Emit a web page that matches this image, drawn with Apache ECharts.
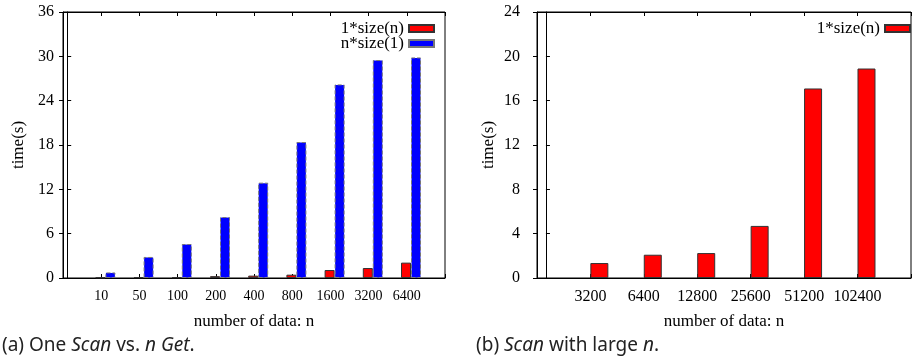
<!DOCTYPE html>
<html>
<head>
<meta charset="utf-8">
<script src="https://cdn.jsdelivr.net/npm/echarts@6/dist/echarts.min.js"></script>
<style>
  html, body { margin: 0; padding: 0; background: #fff; }
  #chart { width: 914px; height: 363px; }
</style>
</head>
<body>
<div id="chart"></div>
<script>
// (a) one Scan vs n Get
const leftCats = ["10", "50", "100", "200", "400", "800", "1600", "3200", "6400"];
const leftScan = [0.08, 0.1, 0.1, 0.25, 0.32, 0.45, 1.08, 1.35, 2.08];
const leftGet = [0.75, 2.85, 4.6, 8.25, 12.9, 18.4, 26.2, 29.5, 29.85];
const leftTicks = [0, 6, 12, 18, 24, 30, 36];

// (b) Scan with large n
const rightCats = ["3200", "6400", "12800", "25600", "51200", "102400"];
const rightScan = [1.35, 2.1, 2.25, 4.7, 17.1, 18.9];
const rightTicks = [0, 4, 8, 12, 16, 20, 24];

const SERIF = "'Liberation Serif', 'Times New Roman', serif";
const SANS = "'Noto Sans', sans-serif";
const black = "#000";

function valueX(grid, min, max, extra) {
  return Object.assign({
    gridIndex: grid, type: "value", min: min, max: max, interval: 1,
    splitLine: { show: false },
    axisLine: { lineStyle: { color: black, width: 1 } },
    axisTick: { inside: true, length: 4, lineStyle: { color: black } }
  }, extra);
}

function valueY(grid, ticks, extra) {
  return Object.assign({
    gridIndex: grid, type: "value",
    min: ticks[0], max: ticks[ticks.length - 1],
    interval: ticks[1] - ticks[0],
    splitLine: { show: false },
    axisLine: { show: true, lineStyle: { color: black, width: 1 } },
    axisTick: { show: true, inside: true, length: 4, lineStyle: { color: black } }
  }, extra);
}

const chart = echarts.init(document.getElementById("chart"));

chart.setOption({
  animation: false,
  textStyle: { fontFamily: SERIF, color: black },
  grid: [
    { left: 63, top: 12, width: 382, height: 266, show: true, borderColor: black, borderWidth: 1 },
    { left: 537, top: 12, width: 382, height: 266, show: true, borderColor: black, borderWidth: 1 }
  ],
  legend: [
    {
      data: ["1*size(n)", "n*size(1)"],
      orient: "vertical", align: "right", icon: "rect",
      right: 479, top: 20, padding: 0,
      itemWidth: 25, itemHeight: 7, itemGap: -2,
      textStyle: { fontFamily: SERIF, fontSize: 17, color: black }
    },
    {
      data: ["1*size(n)"],
      orient: "vertical", align: "right", icon: "rect",
      right: 3, top: 20, padding: 0,
      itemWidth: 25, itemHeight: 7,
      textStyle: { fontFamily: SERIF, fontSize: 17, color: black }
    }
  ],
  xAxis: [
    // bars of (a), shifted a little right of the tick like gnuplot does
    valueX(0, -0.11, 9.89, { show: false }),
    valueX(0, 0, 10, {
      position: "bottom",
      axisLabel: {
        fontFamily: SERIF, fontSize: 14, color: black, margin: 11,
        formatter: v => leftCats[v - 1] || ""
      },
      name: "number of data: n", nameLocation: "middle", nameGap: 35,
      nameTextStyle: { fontFamily: SERIF, fontSize: 17, color: black }
    }),
    valueX(0, 0, 10, { position: "top", axisLabel: { show: false } }),
    // bars of (b)
    valueX(1, -0.167, 6.833, { show: false }),
    valueX(1, 0, 7, {
      position: "bottom",
      axisLabel: {
        fontFamily: SERIF, fontSize: 16, color: black, margin: 11,
        formatter: v => rightCats[v - 1] || ""
      },
      name: "number of data: n", nameLocation: "middle", nameGap: 35,
      nameTextStyle: { fontFamily: SERIF, fontSize: 17, color: black }
    }),
    valueX(1, 0, 7, { position: "top", axisLabel: { show: false } })
  ],
  yAxis: [
    valueY(0, leftTicks, {
      position: "left",
      axisLabel: { fontFamily: SERIF, fontSize: 16, color: black, margin: 9 },
      name: "time(s)", nameLocation: "middle", nameGap: 36,
      nameTextStyle: { fontFamily: SERIF, fontSize: 17, color: black }
    }),
    valueY(0, leftTicks, { position: "right", axisLabel: { show: false } }),
    valueY(1, rightTicks, {
      position: "left",
      axisLabel: { fontFamily: SERIF, fontSize: 16, color: black, margin: 17 },
      name: "time(s)", nameLocation: "middle", nameGap: 40,
      nameTextStyle: { fontFamily: SERIF, fontSize: 17, color: black }
    }),
    valueY(1, rightTicks, { position: "right", axisLabel: { show: false } })
  ],
  series: [
    {
      name: "1*size(n)", type: "bar", xAxisIndex: 0, yAxisIndex: 0,
      barWidth: 10, barGap: "0%",
      itemStyle: { color: "#ff0000", borderColor: "#333", borderWidth: 1 },
      data: leftCats.map((c, i) => [i + 1, leftScan[i]])
    },
    {
      name: "n*size(1)", type: "bar", xAxisIndex: 0, yAxisIndex: 0,
      barWidth: 10, barGap: "0%",
      itemStyle: { color: "#0000ff", borderColor: "#777", borderWidth: 1, borderType: "dashed" },
      data: leftCats.map((c, i) => [i + 1, leftGet[i]])
    },
    {
      name: "1*size(n)", type: "bar", xAxisIndex: 3, yAxisIndex: 2,
      barWidth: 18,
      itemStyle: { color: "#ff0000", borderColor: "#333", borderWidth: 1 },
      data: rightCats.map((c, i) => [i + 1, rightScan[i]])
    }
  ],
  graphic: [
    {
      type: "text", left: 2, top: 336,
      style: {
        text: "(a) One {i|Scan} vs. {i|n Get}.",
        fontFamily: SANS, fontSize: 19, fill: "#222",
        rich: { i: { fontStyle: "italic", fontFamily: SANS, fontSize: 19, color: "#222" } }
      }
    },
    {
      type: "text", left: 476, top: 336,
      style: {
        text: "(b) {i|Scan} with large {i|n}.",
        fontFamily: SANS, fontSize: 19, fill: "#222",
        rich: { i: { fontStyle: "italic", fontFamily: SANS, fontSize: 19, color: "#222" } }
      }
    }
  ]
});
</script>
</body>
</html>
